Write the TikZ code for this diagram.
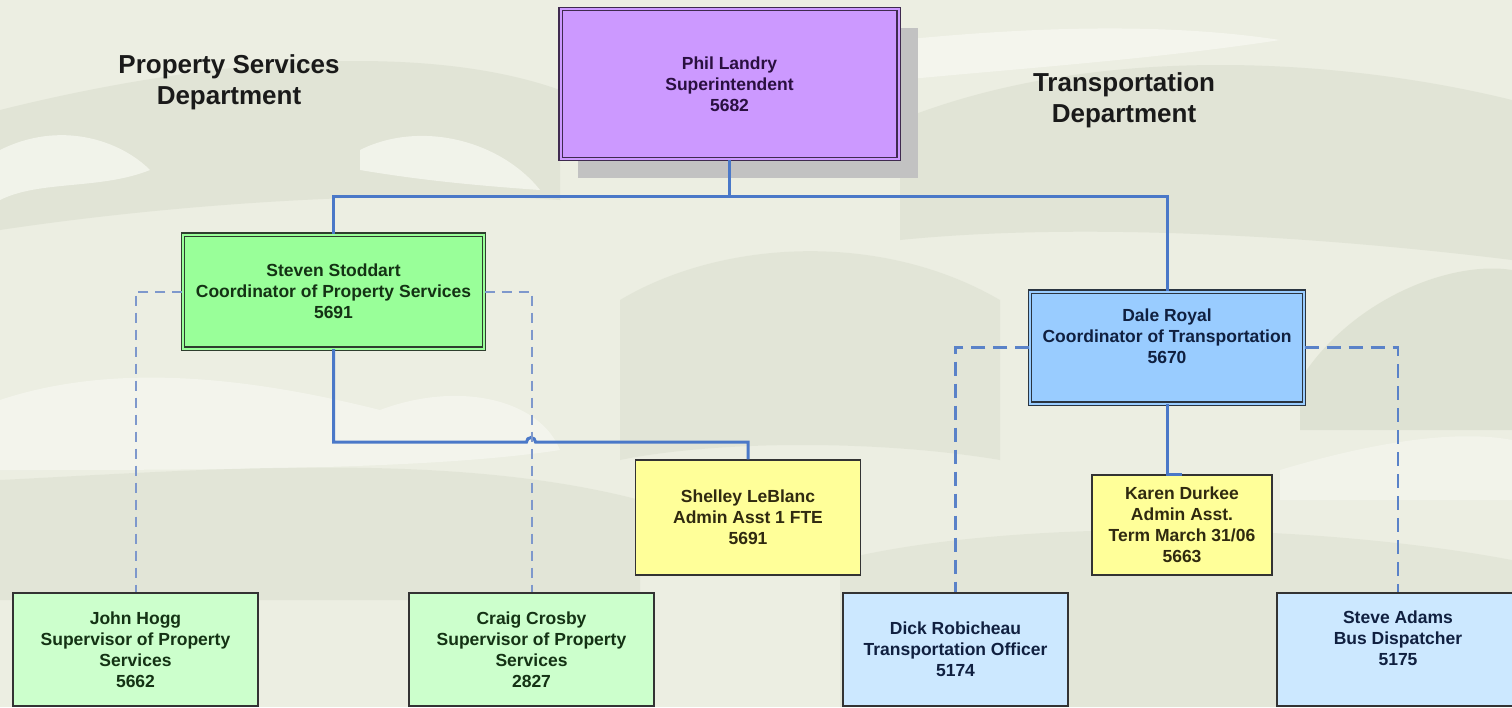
\documentclass[tikz,border=0pt]{standalone}
\usepackage{fontspec}
\setmainfont{Liberation Sans}
\definecolor{bgbase}{HTML}{ECEEE2}
\definecolor{bgdark}{HTML}{DADECE}
\definecolor{bgdarker}{HTML}{CFD4C1}
\definecolor{bglight}{HTML}{F6F7F0}
\definecolor{connblue}{HTML}{4A78C8}
\definecolor{dashgreen}{HTML}{7E98CC}
\definecolor{dashblue}{HTML}{5A82C8}
\definecolor{purplefill}{HTML}{CC99FF}
\definecolor{purpleline}{HTML}{3F2A4F}
\definecolor{purpletext}{HTML}{2A1040}
\definecolor{greenfill}{HTML}{99FF99}
\definecolor{greenline}{HTML}{2E3E2E}
\definecolor{greentext}{HTML}{143214}
\definecolor{lgreenfill}{HTML}{CCFFCC}
\definecolor{bluefill}{HTML}{99CCFF}
\definecolor{blueline}{HTML}{2A3440}
\definecolor{bluetext}{HTML}{102040}
\definecolor{lbluefill}{HTML}{CCE8FF}
\definecolor{yellowfill}{HTML}{FFFF99}
\definecolor{yellowtext}{HTML}{302A10}
\definecolor{darkline}{HTML}{333333}
\definecolor{shadowgrey}{HTML}{C2C2C2}
\definecolor{titletext}{HTML}{1A1A1A}
\begin{document}
\begin{tikzpicture}[x=1pt,y=-1pt,
  boxtext/.style={font=\bfseries\fontsize{17.5}{21}\selectfont, align=center},
  orgbox/.style={rectangle, inner sep=0pt, boxtext},
  coordbox/.style={orgbox, draw=#1, line width=1.2pt, double distance=2pt},
  plainbox/.style={orgbox, draw=darkline, line width=1.4pt},
  conn/.style={draw=connblue, line width=3pt},
  dashg/.style={draw=dashgreen, line width=2pt, dash pattern=on 10pt off 7pt},
  dashb/.style={draw=dashblue, line width=2.6pt, dash pattern=on 14pt off 8pt},
  deptitle/.style={font=\bfseries\fontsize{26}{31}\selectfont, align=center, text=titletext}
]
% background
\fill[bgbase] (0,0) rectangle (1512,707);
\useasboundingbox (0,0) rectangle (1512,707);
\begin{scope}
\clip (0,0) rectangle (1512,707);
\fill[bgdark, opacity=0.6] (0,110) .. controls (200,60) and (420,40) .. (560,90)
  -- (560,200) .. controls (420,190) and (200,200) .. (0,230) -- cycle;
\fill[bgdark, opacity=0.6] (900,120) .. controls (1100,40) and (1350,60) .. (1512,100)
  -- (1512,260) .. controls (1350,240) and (1100,220) .. (900,240) -- cycle;
\fill[bglight, opacity=0.8] (0,150) .. controls (60,120) and (120,140) .. (150,170)
  .. controls (100,190) and (40,180) .. (0,200) -- cycle;
\fill[bglight, opacity=0.8] (360,150) .. controls (420,120) and (500,140) .. (540,190)
  .. controls (470,185) and (420,180) .. (360,170) -- cycle;
\fill[bglight, opacity=0.8] (900,40) .. controls (1000,30) and (1150,20) .. (1280,40)
  .. controls (1150,60) and (1000,70) .. (900,80) -- cycle;
\fill[bglight, opacity=0.75] (0,400) .. controls (120,360) and (260,380) .. (380,410)
  .. controls (460,380) and (540,400) .. (560,450)
  .. controls (430,470) and (200,470) .. (0,470) -- cycle;
\fill[bgdark, opacity=0.5] (0,480) .. controls (200,470) and (450,450) .. (640,500)
  -- (640,600) -- (0,600) -- cycle;
\fill[bgdarker, opacity=0.45] (1300,380) .. controls (1350,300) and (1450,260) .. (1512,270)
  -- (1512,430) -- (1300,430) -- cycle;
\fill[bgdark, opacity=0.5] (620,300) .. controls (720,240) and (880,230) .. (1000,300)
  -- (1000,460) .. controls (880,440) and (720,440) .. (620,460) -- cycle;
\fill[bglight, opacity=0.6] (1280,470) .. controls (1380,440) and (1460,430) .. (1512,440)
  -- (1512,500) .. controls (1440,500) and (1360,500) .. (1280,500) -- cycle;
\fill[bgdark, opacity=0.45] (840,560) .. controls (1000,520) and (1300,520) .. (1512,560)
  -- (1512,707) -- (840,707) -- cycle;
\end{scope}

% department titles
\node[deptitle] (proptitle) at (229,82) {Property Services\\Department};
\node[deptitle] (transtitle) at (1124,100) {Transportation\\Department};

% superintendent
\fill[shadowgrey] (578,28) rectangle (918,178);
\node[coordbox=purpleline, fill=purplefill, double=purplefill, text=purpletext,
      minimum width=338pt, minimum height=150pt] (phil) at (729.5,84)
      {Phil Landry\\Superintendent\\5682};

% coordinators
\node[coordbox=greenline, fill=greenfill, double=greenfill, text=greentext,
      minimum width=301pt, minimum height=114pt] (steven) at (333.5,291.5)
      {Steven Stoddart\\Coordinator of Property Services\\5691};
\node[coordbox=blueline, fill=bluefill, double=bluefill,
      minimum width=274pt, minimum height=112pt,
      label={[boxtext, text=bluetext, yshift=11pt]center:Dale Royal\\Coordinator of Transportation\\5670}]
      (dale) at (1167,347.5) {};

% admin assistants
\node[plainbox, fill=yellowfill, text=yellowtext,
      minimum width=225pt, minimum height=115pt] (shelley) at (748,517.5)
      {Shelley LeBlanc\\Admin Asst 1 FTE\\5691};
\node[plainbox, fill=yellowfill, text=yellowtext,
      minimum width=180pt, minimum height=100pt] (karen) at (1182,525)
      {Karen Durkee\\Admin Asst.\\Term March 31/06\\5663};

% supervisors / staff
\node[plainbox, fill=lgreenfill, text=greentext,
      minimum width=245pt, minimum height=113pt] (john) at (135.5,649.5)
      {John Hogg\\Supervisor of Property\\Services\\5662};
\node[plainbox, fill=lgreenfill, text=greentext,
      minimum width=245pt, minimum height=113pt] (craig) at (531.5,649.5)
      {Craig Crosby\\Supervisor of Property\\Services\\2827};
\node[plainbox, fill=lbluefill, text=bluetext,
      minimum width=225pt, minimum height=113pt] (dick) at (955.5,649.5)
      {Dick Robicheau\\Transportation Officer\\5174};
\node[plainbox, fill=lbluefill,
      minimum width=242pt, minimum height=113pt,
      label={[boxtext, text=bluetext, yshift=11.5pt]center:Steve Adams\\Bus Dispatcher\\5175}]
      (steve) at (1398,649.5) {};

% solid connectors
\coordinate (bus) at (729.5,196);
\coordinate (hop) at (531,442);
\draw[conn] (phil.south) -- (bus);
\draw[conn] (steven.north) |- (bus) -| (dale.north);
\draw[conn] (steven.south) |- ([xshift=-4.5pt]hop)
  arc[start angle=180, end angle=0, radius=4.5pt] -| (shelley.north);
\draw[conn] (dale.south) |- (karen.north);

% dashed connectors
\draw[dashg] (steven.west) -| (john.north);
\draw[dashg] (steven.east) -| (craig.north);
\draw[dashb] (dale.west) -| (dick.north);
\draw[dashb] (dale.east) -| (steve.north);
\end{tikzpicture}
\end{document}
